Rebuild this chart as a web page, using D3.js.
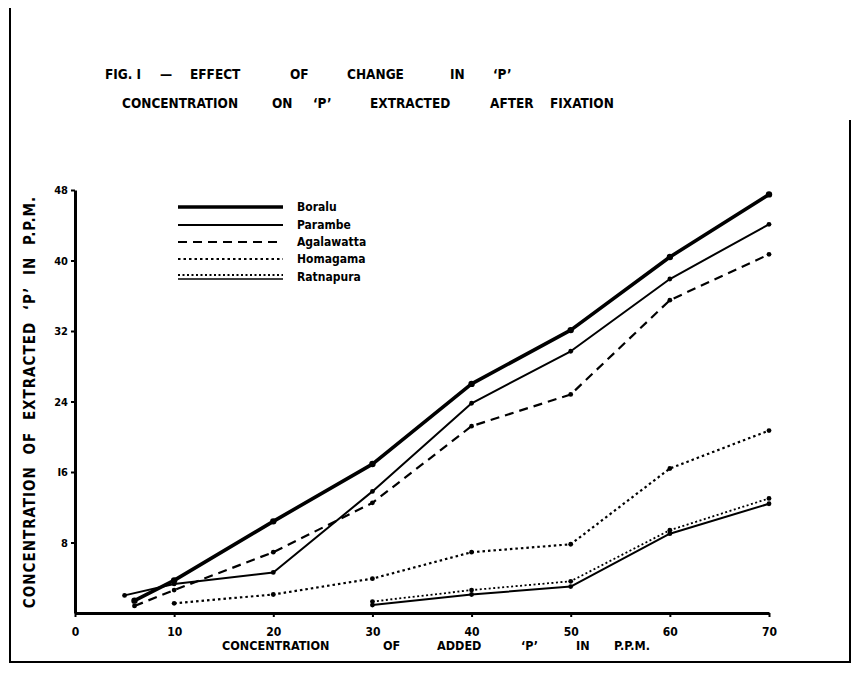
<!DOCTYPE html>
<html>
<head>
<meta charset="utf-8">
<script src="https://cdn.jsdelivr.net/npm/d3@7"></script>
<style>
  html, body { margin: 0; padding: 0; background: #fff; }
  text { font-family: "Liberation Sans Narrow", "DejaVu Sans Condensed", "Liberation Sans", sans-serif; font-weight: bold; fill: #000; }
</style>
</head>
<body>
<svg id="chart" width="864" height="677"></svg>
<script>
// added P (ppm) and extracted P (ppm) for each soil
const xTicks = [0, 10, 20, 30, 40, 50, 60, 70]
const yTicks = [8, 16, 24, 32, 40, 48]
const yTickLabels = ['8', 'I6', '24', '32', '40', '48']

const boraluX = [6, 10, 20, 30, 40, 50, 60, 70]
const boraluY = [1.4, 3.7, 10.4, 16.9, 26.0, 32.1, 40.4, 47.5]
const parambeX = [5, 10, 20, 30, 40, 50, 60, 70]
const parambeY = [2.0, 3.3, 4.6, 13.8, 23.8, 29.7, 37.9, 44.1]
const agalawattaX = [6, 10, 20, 30, 40, 50, 60, 70]
const agalawattaY = [0.8, 2.6, 6.9, 12.5, 21.2, 24.8, 35.5, 40.7]
const homagamaX = [10, 20, 30, 40, 50, 60, 70]
const homagamaY = [1.1, 2.1, 3.9, 6.9, 7.8, 16.4, 20.7]
const ratnapuraX = [30, 40, 50, 60, 70]
const ratnapuraY = [0.9, 2.1, 3.0, 9.0, 12.4]
const ratnapuraDotY = [1.3, 2.6, 3.6, 9.4, 13.0]

const legendNames = ['Boralu', 'Parambe', 'Agalawatta', 'Homagama', 'Ratnapura']

const titleLine1 = [['FIG. I', 105], ['—', 160], ['EFFECT', 190], ['OF', 290], ['CHANGE', 347], ['IN', 450], ['‘P’', 493]]
const titleLine2 = [['CONCENTRATION', 122], ['ON', 272], ['‘P’', 313], ['EXTRACTED', 370], ['AFTER', 490], ['FIXATION', 550]]
const xLabelWords = [['CONCENTRATION', 222], ['OF', 383], ['ADDED', 437], ['‘P’', 521], ['IN', 576], ['P.P.M.', 614]]

const svg = d3.select('#chart')

const x = d3.scaleLinear().domain([0, 70]).range([75, 769])
const y = d3.scaleLinear().domain([0, 48]).range([613, 190])

// frame of the scanned figure
svg.append('path')
  .attr('d', 'M10,8 L10,662 L850,662 L850,120')
  .attr('fill', 'none').attr('stroke', '#000').attr('stroke-width', 2)

// title
const title = svg.append('g').attr('font-size', 13.5)
titleLine1.forEach(([w, px]) => title.append('text').attr('x', px).attr('y', 79).text(w))
titleLine2.forEach(([w, px]) => title.append('text').attr('x', px).attr('y', 108).text(w))

// axes
const xAxis = svg.append('g').attr('transform', `translate(0,${y(0)})`)
  .call(d3.axisBottom(x).tickValues(xTicks).tickSize(4).tickSizeOuter(0).tickPadding(10))
const yAxis = svg.append('g').attr('transform', `translate(${x(0)},0)`)
  .call(d3.axisLeft(y).tickValues(yTicks).tickSize(4).tickSizeOuter(0).tickPadding(3)
    .tickFormat((d, i) => yTickLabels[i]))
;[xAxis, yAxis].forEach(a => {
  a.select('.domain').attr('stroke', '#000').attr('stroke-width', 3)
  a.selectAll('.tick line').attr('stroke', '#000').attr('stroke-width', 2)
  a.selectAll('.tick text').attr('font-size', 12).attr('fill', '#000')
    .style('font-family', '"Liberation Sans Narrow", "DejaVu Sans Condensed", sans-serif').style('font-weight', 'bold')
})
yAxis.selectAll('.tick text').attr('font-size', 11)

// axis titles
const xl = svg.append('g').attr('font-size', 12.5)
xLabelWords.forEach(([w, px]) => xl.append('text').attr('x', px).attr('y', 650).text(w))

svg.append('text')
  .attr('transform', 'translate(35,402) rotate(-90)')
  .attr('text-anchor', 'middle').attr('font-size', 15)
  .attr('letter-spacing', 1).attr('word-spacing', 6)
  .text('CONCENTRATION OF EXTRACTED ‘P’ IN P.P.M.')

// series
const series = [
  { xs: boraluX, ys: boraluY, w: 3.6, dash: null },
  { xs: parambeX, ys: parambeY, w: 2, dash: null },
  { xs: agalawattaX, ys: agalawattaY, w: 2.2, dash: '9,6' },
  { xs: homagamaX, ys: homagamaY, w: 2.2, dash: '2.5,3' },
  { xs: ratnapuraX, ys: ratnapuraY, w: 2, dash: null },
  { xs: ratnapuraX, ys: ratnapuraDotY, w: 1.8, dash: '2,2.5' }
]
const line = d3.line().x(d => x(d[0])).y(d => y(d[1]))
series.forEach(s => {
  const pts = s.xs.map((v, i) => [v, s.ys[i]])
  svg.append('path').datum(pts).attr('d', line)
    .attr('fill', 'none').attr('stroke', '#000').attr('stroke-width', s.w)
    .attr('stroke-dasharray', s.dash).attr('stroke-linejoin', 'round')
  svg.append('g').selectAll('circle').data(pts).join('circle')
    .attr('cx', d => x(d[0])).attr('cy', d => y(d[1]))
    .attr('r', s.w > 3 ? 3.2 : 2.4).attr('fill', '#000')
})

// legend
const legendRows = [207, 225, 242, 259, 277]
const legendStyles = [
  [{ w: 3.6, dash: null, dy: 0 }],
  [{ w: 2, dash: null, dy: 0 }],
  [{ w: 2.2, dash: '9,6', dy: 0 }],
  [{ w: 2.2, dash: '2.5,3', dy: 0 }],
  [{ w: 1.8, dash: '2,2.5', dy: -2 }, { w: 1.6, dash: null, dy: 2 }]
]
const legend = svg.append('g')
legendNames.forEach((n, i) => {
  legendStyles[i].forEach(st => {
    legend.append('line').attr('x1', 178).attr('x2', 283)
      .attr('y1', legendRows[i] + st.dy).attr('y2', legendRows[i] + st.dy)
      .attr('stroke', '#000').attr('stroke-width', st.w).attr('stroke-dasharray', st.dash)
  })
  legend.append('text').attr('x', 297).attr('y', legendRows[i] + 4)
    .attr('font-size', 12).text(n)
})
</script>
</body>
</html>
